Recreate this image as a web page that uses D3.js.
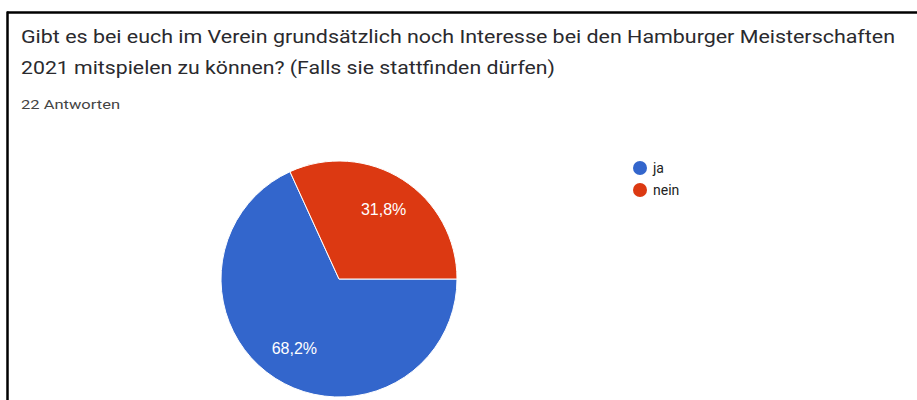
<!DOCTYPE html>
<html>
<head>
<meta charset="utf-8">
<script src="https://cdn.jsdelivr.net/npm/d3@7"></script>
<style>
  body { margin: 0; background: #fff; }
  svg { display: block; }
</style>
</head>
<body>
<div id="chart"></div>
<script>
// Data
const titleLines = [
  "Gibt es bei euch im Verein grundsätzlich noch Interesse bei den Hamburger Meisterschaften",
  "2021 mitspielen zu können? (Falls sie stattfinden dürfen)"
];
const subtitle = "22 Antworten";
const categories = ["ja", "nein"];
const counts = [15, 7];
const colors = ["#3366cc", "#dc3912"];

const width = 917, height = 400;
const cx = 339, cy = 279, radius = 118;

const de = d3.formatLocale({ decimal: ",", thousands: ".", grouping: [3], currency: ["", " €"] });
const pct = de.format(".1%");

const svg = d3.select("#chart")
  .append("svg")
  .attr("width", width)
  .attr("height", height);

// card border (only top and left visible in the crop)
svg.append("line")
  .attr("x1", 7).attr("y1", 12.5)
  .attr("x2", width).attr("y2", 12.5)
  .attr("stroke", "#000")
  .attr("stroke-width", 2.5);
svg.append("line")
  .attr("x1", 7.5).attr("y1", 11.5)
  .attr("x2", 7.5).attr("y2", height)
  .attr("stroke", "#000")
  .attr("stroke-width", 2.5);

// title
const titleWidths = [874, 534];
svg.selectAll(".title")
  .data(titleLines)
  .enter()
  .append("text")
  .attr("class", "title")
  .attr("x", 21)
  .attr("y", (d, i) => 43 + i * 31)
  .attr("textLength", (d, i) => titleWidths[i])
  .attr("lengthAdjust", "spacingAndGlyphs")
  .style("font-family", "Roboto, sans-serif")
  .style("font-size", "19px")
  .style("fill", "#2a2a2e")
  .text(d => d);

svg.append("text")
  .attr("x", 21)
  .attr("y", 109)
  .attr("textLength", 99)
  .attr("lengthAdjust", "spacingAndGlyphs")
  .style("font-family", "Roboto, sans-serif")
  .style("font-size", "13px")
  .style("fill", "#444")
  .text(subtitle);

// pie
const total = d3.sum(counts);
const data = categories.map((c, i) => ({ name: c, value: counts[i], color: colors[i] }));

const pie = d3.pie()
  .sort(null)
  .value(d => d.value)
  .startAngle(Math.PI / 2)
  .endAngle(Math.PI / 2 + 2 * Math.PI);

const arc = d3.arc().innerRadius(0).outerRadius(radius);
const labelArc = d3.arc().innerRadius(radius * 0.7).outerRadius(radius * 0.7);

const g = svg.append("g")
  .attr("transform", `translate(${cx},${cy})`);

const slices = pie(data);

g.selectAll("path")
  .data(slices)
  .enter()
  .append("path")
  .attr("d", arc)
  .attr("fill", d => d.data.color)
  .attr("stroke", "#fff")
  .attr("stroke-width", 1);

g.selectAll(".lbl")
  .data(slices)
  .enter()
  .append("text")
  .attr("class", "lbl")
  .attr("transform", d => `translate(${labelArc.centroid(d)})`)
  .attr("text-anchor", "middle")
  .attr("dy", "0.36em")
  .style("font-family", "Arial, 'Liberation Sans', sans-serif")
  .style("font-size", "16px")
  .style("fill", "#fff")
  .text(d => pct(d.data.value / total));

// legend
const legend = svg.append("g")
  .attr("transform", "translate(640,168)");

const items = legend.selectAll("g")
  .data(data)
  .enter()
  .append("g")
  .attr("transform", (d, i) => `translate(0,${i * 22})`);

items.append("circle")
  .attr("r", 7)
  .attr("fill", d => d.color);

items.append("text")
  .attr("x", 13)
  .attr("dy", "0.36em")
  .style("font-family", "Roboto, sans-serif")
  .style("font-size", "14px")
  .style("fill", "#222")
  .text(d => d.name);
</script>
</body>
</html>
